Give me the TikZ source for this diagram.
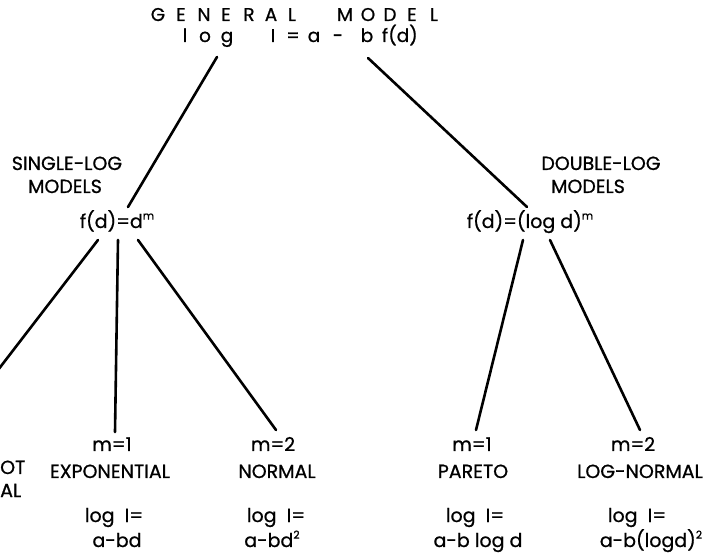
\documentclass[tikz,border=0pt]{standalone}
\usepackage{fontspec}
\setmainfont{Poppins}[FakeBold=0.8]
\newcommand{\mysup}[1]{\raisebox{0.8ex}{\fontsize{11}{11}\selectfont #1}}
\begin{document}
\begin{tikzpicture}[x=1pt,y=-1pt,
  lbl/.style={inner sep=0pt, anchor=base, font=\fontsize{19}{21}\selectfont},
  ttl/.style={inner sep=0pt, anchor=base, font=\fontsize{18.5}{21}\selectfont},
  edge/.style={line width=2.6pt, line cap=round}]
\useasboundingbox (0,0) rectangle (705,553);
\clip (0,0) rectangle (705,553);
% title, letter spaced
\foreach \x/\t [count=\i] in {158/G,181/E,204/N,226/E,249/R,271/A,292/L,345/M,368/O,390/D,412/E,434/L}
  \node[ttl] (gm\i) at (\x,21) {\t};
\foreach \x/\t [count=\i] in {185/l,205/o,227/g,273/I,293/=,314/a,338/-,367/b,385/f,403/(d)}
  \node[ttl] (eq\i) at (\x,42) {\t};
% second level
\node[lbl] (sl1) at (67,170) {SINGLE-LOG};
\node[lbl] (sl2) at (65,193) {MODELS};
\node[lbl] (sl3) at (117,228) {f(d)=d\mysup{m}};
\node[lbl] (dl1) at (601,170) {DOUBLE-LOG};
\node[lbl] (dl2) at (588,193) {MODELS};
\node[lbl] (dl3) at (530,228) {f(d)=(log d)\mysup{m}};
% leaves
\node[lbl, anchor=base west] (ot1) at (0,474) {OT};
\node[lbl, anchor=base west] (ot2) at (0,497) {AL};
\node[lbl] (e1) at (112,451) {m=1};
\node[lbl] (e2) at (110,478) {EXPONENTIAL};
\node[lbl] (e3) at (114,522) {log\ \ I=};
\node[lbl] (e4) at (117,547) {a-bd};
\node[lbl] (n1) at (273,451) {m=2};
\node[lbl] (n2) at (277,478) {NORMAL};
\node[lbl] (n3) at (276,522) {log\ \ I=};
\node[lbl] (n4) at (272,547) {a-bd\mysup{2}};
\node[lbl] (p1) at (472,451) {m=1};
\node[lbl] (p2) at (473,478) {PARETO};
\node[lbl] (p3) at (475,522) {log\ \ I=};
\node[lbl] (p4) at (478,547) {a-b log d};
\node[lbl] (l1) at (633,451) {m=2};
\node[lbl] (l2) at (640,478) {LOG-NORMAL};
\node[lbl] (l3) at (637,522) {log\ \ I=};
\node[lbl] (l4) at (651,547) {a-b(logd)\mysup{2}};
% connector ends
\coordinate (ta) at (217,57);
\coordinate (tb) at (128,207);
\coordinate (tc) at (368,58);
\coordinate (td) at (527,207);
\coordinate (sa) at (98,240);
\coordinate (sb) at (-12,383);
\coordinate (sc) at (118,240);
\coordinate (sd) at (115,432);
\coordinate (se) at (138,240);
\coordinate (sf) at (276,430);
\coordinate (da) at (523,240);
\coordinate (db) at (476,430);
\coordinate (dc) at (550,240);
\coordinate (dd) at (640,430);
\draw[edge] (ta) -- (tb);
\draw[edge] (tc) -- (td);
\draw[edge] (sa) -- (sb);
\draw[edge] (sc) -- (sd);
\draw[edge] (se) -- (sf);
\draw[edge] (da) -- (db);
\draw[edge] (dc) -- (dd);
\end{tikzpicture}
\end{document}
